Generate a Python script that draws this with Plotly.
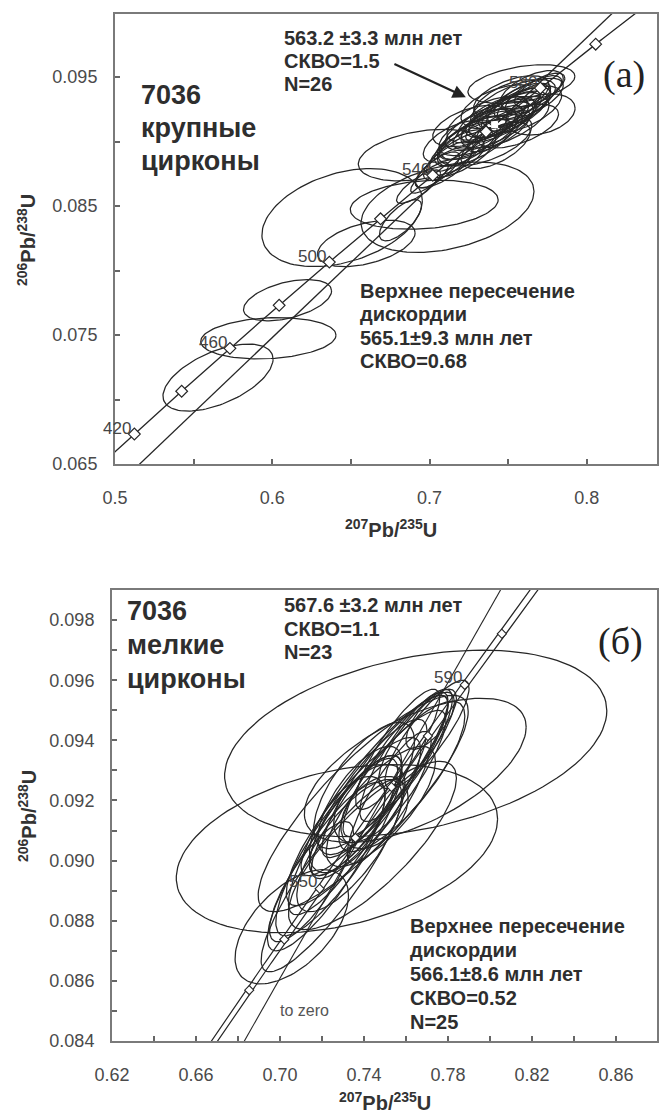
import numpy as np
import plotly.graph_objects as go

W, H = 662, 1115
L238 = 1.55125e-10
L235 = 9.8485e-10

# ---------------- panel (a) data ----------------
a_marker_ages = [420, 440, 460, 480, 500, 520, 540, 560, 580, 600]
a_label_ages = [420, 460, 500, 540, 580]
a_cx = [0.5655, 0.6097, 0.5975, 0.6598, 0.6444, 0.6966, 0.7114, 0.6947, 0.7584, 0.7705, 0.6815, 0.7000, 0.6930,
        0.7050, 0.7120, 0.7180, 0.7230, 0.7280, 0.7310, 0.7350, 0.7380, 0.7410, 0.7440, 0.7460, 0.7490, 0.7520,
        0.7540, 0.7570, 0.7600, 0.7630, 0.7660, 0.7350, 0.7450, 0.7260, 0.7560, 0.7420, 0.7700, 0.7160, 0.7520,
        0.7330, 0.7480, 0.7400, 0.7530, 0.7290, 0.7600, 0.7440, 0.7370, 0.7650, 0.7200, 0.7090, 0.7500]
a_cy = [0.0717, 0.0777, 0.07475, 0.0821, 0.0841, 0.0851, 0.0849, 0.08895, 0.09445, 0.0921, 0.0839, 0.0872, 0.0865,
        0.0878, 0.0885, 0.0893, 0.0898, 0.0903, 0.0907, 0.0910, 0.0912, 0.0914, 0.0916, 0.0919, 0.0921, 0.0923,
        0.0926, 0.0928, 0.0931, 0.0933, 0.0936, 0.0901, 0.0927, 0.0912, 0.0912, 0.0897, 0.0940, 0.0900, 0.0935,
        0.0905, 0.0915, 0.0918, 0.0929, 0.0899, 0.0925, 0.0908, 0.0917, 0.0940, 0.0890, 0.0880, 0.0932]
a_sx = [0.035, 0.028, 0.043, 0.031, 0.051, 0.047, 0.055, 0.040, 0.034, 0.022, 0.0134, 0.012, 0.014,
        0.014, 0.016, 0.018, 0.020, 0.022, 0.025, 0.020, 0.028, 0.018, 0.024, 0.021, 0.026, 0.019,
        0.023, 0.020, 0.017, 0.022, 0.018, 0.030, 0.025, 0.024, 0.026, 0.022, 0.016, 0.020, 0.024,
        0.026, 0.028, 0.022, 0.027, 0.024, 0.024, 0.020, 0.026, 0.020, 0.022, 0.018, 0.022]
a_sy = [0.0026, 0.0016, 0.0016, 0.0018, 0.0038, 0.0019, 0.0035, 0.0020, 0.0015, 0.0016, 0.0016, 0.0012, 0.0013,
        0.0014, 0.0015, 0.0016, 0.0017, 0.0017, 0.0018, 0.0016, 0.0019, 0.0014, 0.0017, 0.0016, 0.0018, 0.0015,
        0.0016, 0.0017, 0.0014, 0.0016, 0.0015, 0.0020, 0.0017, 0.0016, 0.0017, 0.0018, 0.0013, 0.0016, 0.0016,
        0.0019, 0.0020, 0.0017, 0.0019, 0.0018, 0.0018, 0.0016, 0.0018, 0.0015, 0.0018, 0.0016, 0.0016]
a_rho = [0.55, 0.45, 0.15, 0.45, 0.35, 0.2, 0.35, 0.35, 0.4, 0.3, 0.7, 0.8, 0.8,
         0.75, 0.7, 0.7, 0.65, 0.7, 0.6, 0.7, 0.65, 0.75, 0.7, 0.6, 0.7, 0.65,
         0.7, 0.6, 0.75, 0.65, 0.7, 0.55, 0.5, 0.5, 0.55, 0.6, 0.7, 0.6, 0.55,
         0.7, 0.65, 0.7, 0.65, 0.7, 0.6, 0.75, 0.6, 0.6, 0.7, 0.75, 0.6]
a_disc_upper = 565.1
a_disc_lower = 150.0
a_conc_age = 563.2
a_arrow_tail = (0.6767, 0.09607)
a_arrow_head = (0.7231, 0.09343)

# ---------------- panel (b) data ----------------
b_marker_ages = [530, 540, 550, 560, 570, 580, 590, 600]
b_label_ages = [550, 590]
b_cx = [0.7646, 0.7271, 0.7644, 0.7056, 0.7440, 0.7396, 0.7450, 0.7500, 0.7350, 0.7280, 0.7550, 0.7600, 0.7380,
        0.7426, 0.7320, 0.7220, 0.7150, 0.7480, 0.7650, 0.7700, 0.7400, 0.7520, 0.7330, 0.7580, 0.7720,
        0.7420, 0.7360, 0.7470, 0.7560, 0.7300, 0.7450, 0.7250]
b_cy = [0.0939, 0.0904, 0.0930, 0.0878, 0.0905, 0.0919, 0.0925, 0.0928, 0.0913, 0.0905, 0.0932, 0.0935, 0.0920,
        0.0919, 0.0912, 0.0898, 0.0893, 0.0918, 0.0940, 0.0942, 0.0925, 0.0921, 0.0905, 0.0928, 0.0947,
        0.0921, 0.0915, 0.0922, 0.0937, 0.0908, 0.0916, 0.0895]
b_sx = [0.091, 0.0765, 0.0528, 0.027, 0.040, 0.050, 0.035, 0.030, 0.032, 0.030, 0.025, 0.022, 0.020,
        0.017, 0.018, 0.028, 0.020, 0.026, 0.018, 0.020, 0.024, 0.020, 0.025, 0.030, 0.012,
        0.028, 0.022, 0.032, 0.020, 0.026, 0.016, 0.034]
b_sy = [0.0031, 0.0028, 0.0024, 0.0019, 0.0028, 0.0036, 0.0030, 0.0027, 0.0028, 0.0030, 0.0024, 0.0022, 0.0018,
        0.0013, 0.0016, 0.0028, 0.0020, 0.0020, 0.0016, 0.0018, 0.0021, 0.0022, 0.0022, 0.0025, 0.0010,
        0.0026, 0.0020, 0.0028, 0.0020, 0.0026, 0.0012, 0.0032]
b_rho = [0.35, 0.35, 0.6, 0.55, 0.8, 0.85, 0.9, 0.88, 0.85, 0.85, 0.88, 0.85, 0.7,
         0.5, 0.6, 0.85, 0.8, 0.75, 0.8, 0.85, 0.7, 0.85, 0.75, 0.8, 0.7,
         0.85, 0.8, 0.88, 0.85, 0.85, 0.4, 0.88]
b_disc_upper = 566.1
b_disc_lower = 0.0
b_band_rel = 0.0017

A_X = [0.5, 0.8446]
A_Y = [0.065, 0.0999]
B_X = [0.62, 0.8795]
B_Y = [0.084, 0.099]

LINE = "#262626"
TXT = "#2e2e2e"
TICK = "#4a4a4a"


def conc(t, l235=L235):
    t = np.asarray(t, dtype=float) * 1e6
    return np.exp(l235 * t) - 1, np.exp(L238 * t) - 1


def ellipses(cx, cy, sx, sy, rho):
    th = np.linspace(0, 2 * np.pi, 120)
    xs, ys = [], []
    for x0, y0, a, b, r in zip(cx, cy, sx, sy, rho):
        xs += list(x0 + a * np.cos(th)) + [None]
        ys += list(y0 + b * (r * np.cos(th) + np.sqrt(1 - r * r) * np.sin(th))) + [None]
    return xs, ys


def chord(t_lo, t_hi, xr):
    x0, y0 = conc([t_lo])
    x1, y1 = conc([t_hi])
    k = (y1[0] - y0[0]) / (x1[0] - x0[0])
    xs = np.array([xr[0] - 0.05, xr[1] + 0.05])
    return xs, y0[0] + k * (xs - x0[0])


fig = go.Figure()

# ---- panel (a)
ex, ey = ellipses(a_cx, a_cy, a_sx, a_sy, a_rho)
fig.add_trace(go.Scatter(x=ex, y=ey, mode="lines", line=dict(color=LINE, width=1.25),
                         xaxis="x", yaxis="y", hoverinfo="skip"))
dx, dy = chord(a_disc_lower, a_disc_upper, A_X)
fig.add_trace(go.Scatter(x=dx, y=dy, mode="lines", line=dict(color=LINE, width=1.3),
                         xaxis="x", yaxis="y"))
tt = np.linspace(380, 640, 300)
cx_, cy_ = conc(tt)
fig.add_trace(go.Scatter(x=cx_, y=cy_, mode="lines", line=dict(color=LINE, width=1.3),
                         xaxis="x", yaxis="y"))
mx, my = conc(a_marker_ages)
fig.add_trace(go.Scatter(x=mx, y=my, mode="markers",
                         marker=dict(symbol="diamond", size=9, color="white", line=dict(color=LINE, width=1.2)),
                         xaxis="x", yaxis="y"))
qx, qy = conc([a_conc_age])
fig.add_trace(go.Scatter(x=qx, y=qy, mode="markers",
                         marker=dict(symbol="square", size=7, color="white", line=dict(color="white", width=0)),
                         xaxis="x", yaxis="y"))
lx, ly = conc(a_label_ages)
for age, x0, y0 in zip(a_label_ages, lx, ly):
    fig.add_annotation(x=x0, y=y0, xref="x", yref="y", text=str(age), showarrow=False,
                       xanchor="right", yanchor="middle", xshift=-1, yshift=6,
                       font=dict(family="Liberation Sans", size=17, color="#444"))
fig.add_annotation(x=a_arrow_head[0], y=a_arrow_head[1], ax=a_arrow_tail[0], ay=a_arrow_tail[1],
                   xref="x", yref="y", axref="x", ayref="y", text="", showarrow=True,
                   arrowhead=2, arrowsize=1.2, arrowwidth=2.2, arrowcolor="#222")

# ---- panel (b)
ex, ey = ellipses(b_cx, b_cy, b_sx, b_sy, b_rho)
fig.add_trace(go.Scatter(x=ex, y=ey, mode="lines", line=dict(color=LINE, width=1.25),
                         xaxis="x2", yaxis="y2", hoverinfo="skip"))
dx, dy = chord(b_disc_lower, b_disc_upper, B_X)
fig.add_trace(go.Scatter(x=dx, y=dy, mode="lines", line=dict(color=LINE, width=1.1),
                         xaxis="x2", yaxis="y2"))
tt = np.linspace(480, 640, 300)
for f in (1 - b_band_rel, 1 + b_band_rel):
    cx_, cy_ = conc(tt, L235 * f)
    fig.add_trace(go.Scatter(x=cx_, y=cy_, mode="lines", line=dict(color=LINE, width=1.2),
                             xaxis="x2", yaxis="y2"))
mx, my = conc(b_marker_ages)
fig.add_trace(go.Scatter(x=mx, y=my, mode="markers",
                         marker=dict(symbol="diamond", size=7, color="white", line=dict(color=LINE, width=1.1)),
                         xaxis="x2", yaxis="y2"))
lx, ly = conc(b_label_ages)
for age, x0, y0 in zip(b_label_ages, lx, ly):
    fig.add_annotation(x=x0, y=y0, xref="x2", yref="y2", text=str(age), showarrow=False,
                       xanchor="right", yanchor="middle", xshift=-1, yshift=7,
                       font=dict(family="Liberation Sans", size=17, color="#444"))


def P(X, Y):
    return X / W, 1 - Y / H


def add_lines(lines, X, Y0, dY, size, bold=True, color=TXT, family="Liberation Sans"):
    for i, s in enumerate(lines):
        x, y = P(X, Y0 + i * dY)
        fig.add_annotation(x=x, y=y, xref="paper", yref="paper",
                           text=f"<b>{s}</b>" if bold else s, showarrow=False,
                           xanchor="left", yanchor="middle",
                           font=dict(family=family, size=size, color=color))


# texts (a)
add_lines(["7036", "крупные", "цирконы"], 139, 95, 33, 27)
add_lines(["563.2 ±3.3 млн лет", "СКВО=1.5", "N=26"], 282, 38, 23, 20)
add_lines(["Верхнее пересечение", "дискордии", "565.1±9.3 млн лет", "СКВО=0.68"], 358, 291, 23.4, 20)
x, y = P(624, 75)
fig.add_annotation(x=x, y=y, xref="paper", yref="paper", text="(a)", showarrow=False,
                   xanchor="center", yanchor="middle",
                   font=dict(family="Liberation Serif", size=38, color="#222"))

# texts (b)
add_lines(["7036", "мелкие", "цирконы"], 125, 611, 34, 27)
add_lines(["567.6 ±3.2 млн лет", "СКВО=1.1", "N=23"], 282, 605, 23.5, 20)
add_lines(["Верхнее пересечение", "дискордии", "566.1±8.6 млн лет", "СКВО=0.52", "N=25"], 408, 926, 24, 20)
add_lines(["to zero"], 278, 1010, 20, 16, bold=False, color="#555")
x, y = P(620, 641)
fig.add_annotation(x=x, y=y, xref="paper", yref="paper", text="(б)", showarrow=False,
                   xanchor="center", yanchor="middle",
                   font=dict(family="Liberation Serif", size=38, color="#222"))

# axis titles
for (X, Y, txt, ang) in [(391, 529, "<b><sup>207</sup>Pb/<sup>235</sup>U</b>", 0),
                         (27, 240, "<b><sup>206</sup>Pb/<sup>238</sup>U</b>", -90),
                         (385, 1101, "<b><sup>207</sup>Pb/<sup>235</sup>U</b>", 0),
                         (27, 816, "<b><sup>206</sup>Pb/<sup>238</sup>U</b>", -90)]:
    x, y = P(X, Y)
    fig.add_annotation(x=x, y=y, xref="paper", yref="paper", text=txt, showarrow=False,
                       textangle=ang, xanchor="center", yanchor="middle",
                       font=dict(family="Liberation Sans", size=20, color="#333"))

a_xt = [0.5, 0.55, 0.6, 0.65, 0.7, 0.75, 0.8]
a_xl = ["0.5", "", "0.6", "", "0.7", "", "0.8"]
a_yt = [0.065, 0.07, 0.075, 0.08, 0.085, 0.09, 0.095]
a_yl = ["0.065", "", "0.075", "", "0.085", "", "0.095"]
b_xt = [0.62, 0.64, 0.66, 0.68, 0.70, 0.72, 0.74, 0.76, 0.78, 0.80, 0.82, 0.84, 0.86]
b_xl = ["0.62", "", "0.66", "", "0.70", "", "0.74", "", "0.78", "", "0.82", "", "0.86"]
b_yt = [0.084, 0.085, 0.086, 0.087, 0.088, 0.089, 0.090, 0.091, 0.092, 0.093, 0.094, 0.095, 0.096, 0.097, 0.098]
b_yl = ["0.084", "", "0.086", "", "0.088", "", "0.090", "", "0.092", "", "0.094", "", "0.096", "", "0.098"]

common = dict(showline=True, mirror=True, linecolor="#7a7a7a", linewidth=2, ticks="inside",
              ticklen=5, tickwidth=1.5, tickcolor="#666", showgrid=False, zeroline=False,
              automargin=False,
              tickfont=dict(family="Liberation Sans", size=18, color=TICK), tickmode="array")

fig.update_layout(
    width=W, height=H, autosize=False, margin=dict(l=0, r=0, t=0, b=0, autoexpand=False),
    paper_bgcolor="white", plot_bgcolor="white", showlegend=False,
    xaxis=dict(domain=[115 / W, 657 / W], range=A_X, anchor="y", tickvals=a_xt, ticktext=a_xl,
               ticklabelstandoff=16, **common),
    yaxis=dict(domain=[1 - 464 / H, 1 - 13.8 / H], range=A_Y, anchor="x", tickvals=a_yt, ticktext=a_yl,
               ticklabelstandoff=12, **common),
    xaxis2=dict(domain=[112 / W, 657 / W], range=B_X, anchor="y2", tickvals=b_xt, ticktext=b_xl,
                ticklabelstandoff=16, **common),
    yaxis2=dict(domain=[1 - 1041 / H, 1 - 590 / H], range=B_Y, anchor="x2", tickvals=b_yt, ticktext=b_yl,
                ticklabelstandoff=12, **common),
)

fig.write_html("out.html")
